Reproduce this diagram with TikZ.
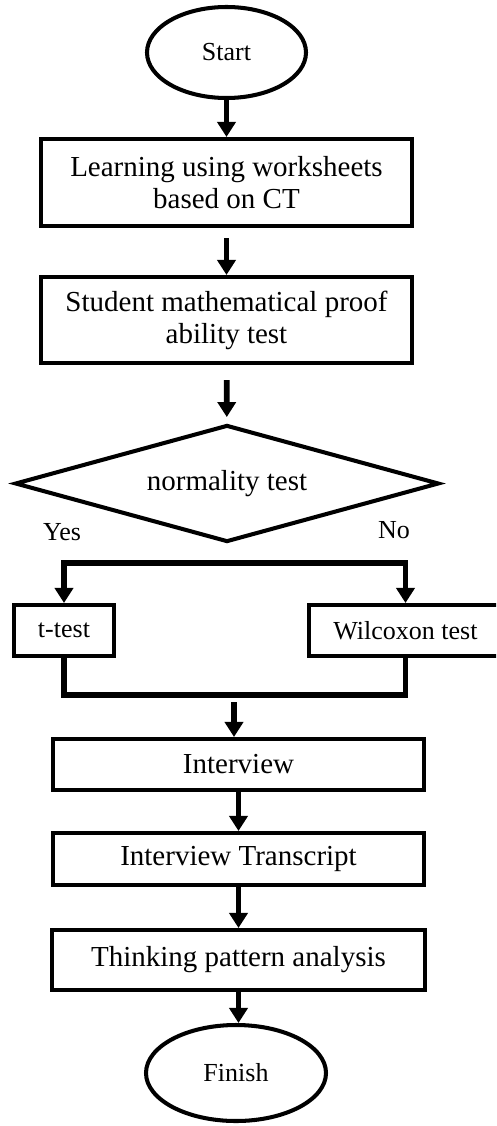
\documentclass[tikz,border=0pt]{standalone}
\usepackage{fontspec}
\setmainfont{Liberation Serif}
\usetikzlibrary{shapes.geometric,arrows.meta}

\begin{document}
\begin{tikzpicture}[line width=2.3pt,
        every node/.style={font=\fontsize{16.5}{18.2}\selectfont, inner sep=1pt},
        smallfont/.style={font=\fontsize{14.8}{17}\selectfont},
        box/.style={draw, rectangle, align=center, minimum width=7.42cm},
        decision/.style={draw, diamond, aspect=3.62, minimum width=8.48cm, minimum height=2.34cm},
        conn/.style={line width=3pt},
        arr/.style={line width=3.3pt, -{Triangle[width=0.36cm, length=0.3cm]}}]
        % Page frame
        \useasboundingbox (0,0) rectangle (9.92,-22.52);
        \clip (0,0) rectangle (9.92,-22.52);

        % Main steps
        \node[draw, ellipse, smallfont, minimum width=3.18cm, minimum height=1.82cm] (start) at (4.53,-1.05) {Start};
        \node[box, minimum height=1.74cm] (learn) at (4.53,-3.65) {Learning using worksheets\\based on CT};
        \node[box, minimum height=1.72cm] (proof) at (4.53,-6.40) {Student mathematical proof\\ability test};
        \node[decision] (normal) at (4.54,-9.67) {normality test};

        % Two branches
        \node[smallfont] (yes) at (1.24,-10.64) {Yes};
        \node[smallfont] (no) at (7.88,-10.61) {No};
        \node[box, smallfont, minimum width=2.0cm, minimum height=1.02cm] (ttest) at (1.28,-12.61) {t-test};
        \node[box, smallfont, minimum width=3.86cm, minimum height=1.02cm] (wilcox) at (8.11,-12.61) {Wilcoxon test};

        % Later steps
        \node[box, minimum height=1.02cm] (interview) at (4.77,-15.29) {Interview};
        \node[box, minimum height=1.04cm] (transcript) at (4.77,-17.18) {Interview Transcript};
        \node[box, minimum width=7.46cm, minimum height=1.20cm] (thinking) at (4.77,-19.20) {Thinking pattern analysis};
        \node[draw, ellipse, smallfont, minimum width=3.60cm, minimum height=1.92cm] (finish) at (4.72,-21.46) {Finish};

        % Branch points
        \coordinate (split) at (4.54,-11.26);
        \coordinate (merge) at (4.68,-13.90);
        \coordinate (join) at (4.68,-14.04);

        % Arrows
        \draw[arr] (start) -- (learn);
        \draw[arr, shorten <=0.2cm] (learn) -- (proof);
        \draw[arr, shorten <=0.3cm, shorten >=0.12cm] (proof) -- (normal);
        \draw[arr] (split) -| (ttest);
        \draw[arr] (split) -| (wilcox);
        \draw[conn] (ttest) |- (merge) -| (wilcox);
        \draw[arr] (join) -- (join |- interview.north);
        \draw[arr] (interview) -- (transcript);
        \draw[arr] (transcript) -- (thinking);
        \draw[arr] (thinking.south) -- (thinking.south |- finish.north);
    \end{tikzpicture}
\end{document}
